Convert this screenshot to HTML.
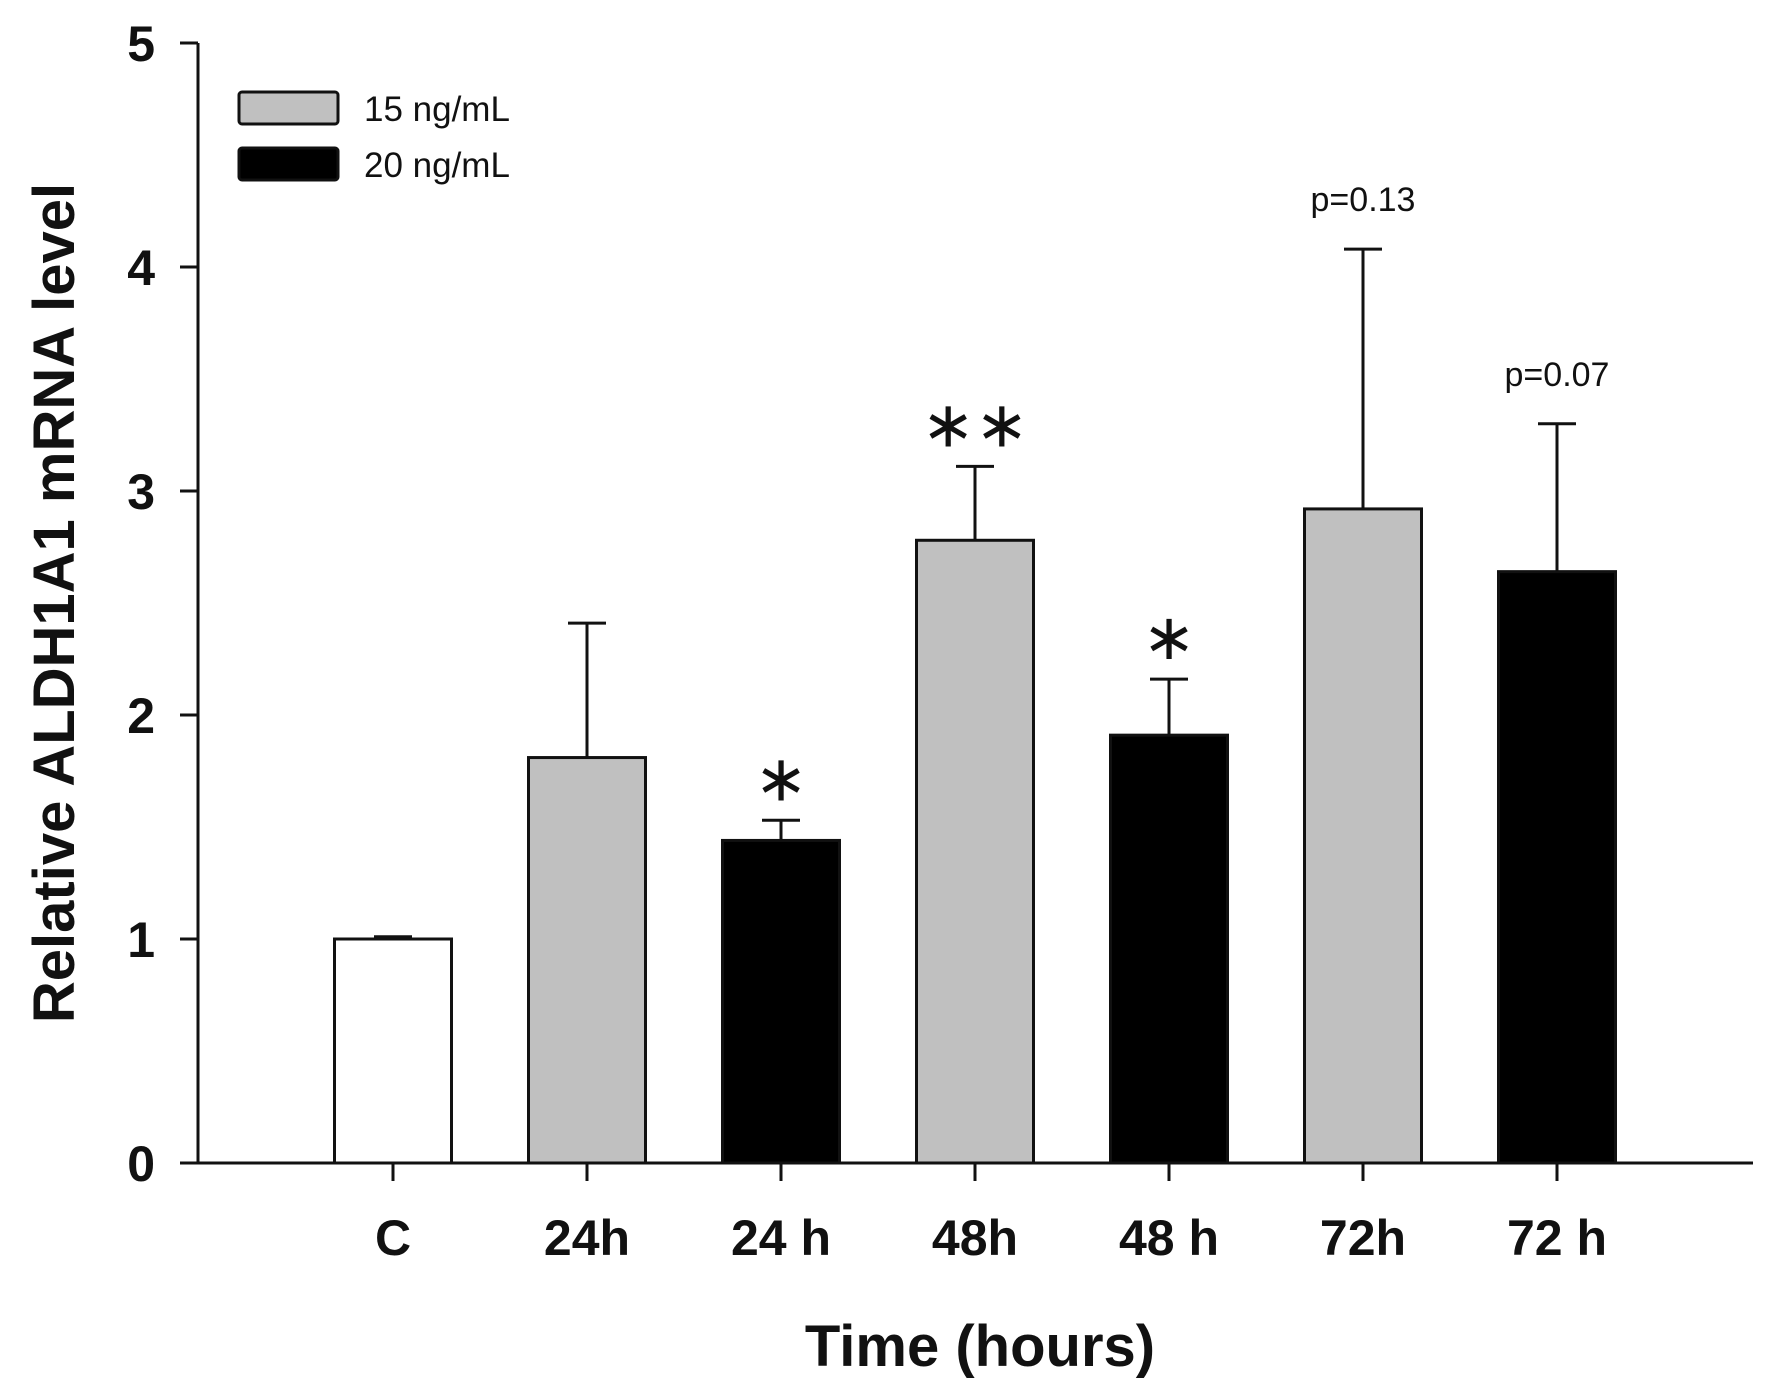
<!DOCTYPE html>
<html><head><meta charset="utf-8"><style>
html,body{margin:0;padding:0;background:#fff;}
svg{display:block;font-family:"Liberation Sans",Arial,sans-serif;}
</style></head><body>
<svg id="chart" width="1776" height="1396" viewBox="0 0 1776 1396" xmlns="http://www.w3.org/2000/svg"></svg>
<script>
const categories = ["C","24h","24 h","48h","48 h","72h","72 h"];
const series = ["control","15","20","15","20","15","20"];
const values = [1.0, 1.81, 1.44, 2.78, 1.91, 2.92, 2.64];
const errors = [0.01, 0.60, 0.09, 0.33, 0.25, 1.16, 0.66];
const annotations = ["", "", "*", "**", "*", "p=0.13", "p=0.07"];
const yTicks = [0,1,2,3,4,5];

const NS="http://www.w3.org/2000/svg";
const svg=document.getElementById('chart');
const X0=198, X1=1753, Y0=1163, Y5=43;
const yScale=v=>Y0-(Y0-Y5)*v/5;
const xScale=i=>393+i*194;
const BW=117;
function mk(tag,attrs,parent){const e=document.createElementNS(NS,tag);for(const k in attrs)e.setAttribute(k,attrs[k]);(parent||svg).appendChild(e);return e;}
const fills={control:"#ffffff","15":"#c0c0c0","20":"#000000"};

categories.forEach((c,i)=>{
  const x=xScale(i), top=yScale(values[i]);
  const g=mk('g',{});
  
  
  const et=yScale(values[i]+errors[i]);
  const el=mk('line',{x1:x,x2:x,y1:top,y2:et,stroke:"#111","stroke-width":3},g);
  
  
  const cap=mk('line',{x1:x-19,x2:x+19,y1:et,y2:et,stroke:"#111","stroke-width":3},g);
  
  
  const r=mk('rect',{x:x-BW/2,y:top,width:BW,height:Y0-top,fill:fills[series[i]],stroke:"#111","stroke-width":3},g);
  
  
  const a=annotations[i];
  if(a){
    const isP=a.startsWith('p');
    const t=mk('text',{x:x,y:isP?et-38:et-20,"text-anchor":"middle","font-size":isP?34:64,fill:"#111"},g);
    t.textContent=isP?a:a.replace(/\*/g,'\u2217');
    
    
  }
  const tk=mk('line',{x1:x,x2:x,y1:Y0,y2:Y0+18,stroke:"#111","stroke-width":3});
  
  
  const lb=mk('text',{x:x,y:1255,"text-anchor":"middle","font-size":50,"font-weight":"bold",fill:"#111"});
  lb.textContent=c;
  
  
});

const ya=mk('line',{x1:X0,x2:X0,y1:Y5,y2:Y0,stroke:"#111","stroke-width":3});


const xa=mk('line',{x1:X0-18,x2:X1,y1:Y0,y2:Y0,stroke:"#111","stroke-width":3});


yTicks.forEach(v=>{
  const y=yScale(v);
  const t=mk('line',{x1:X0-18,x2:X0,y1:y,y2:y,stroke:"#111","stroke-width":3});
  
  
  const l=mk('text',{x:155,y:y+18,"text-anchor":"end","font-size":50,"font-weight":"bold",fill:"#111"});
  l.textContent=v;
  
  
});

const xt=mk('text',{x:980,y:1366,"text-anchor":"middle","font-size":58,"font-weight":"bold",fill:"#111"});
xt.textContent="Time (hours)";


const yt=mk('text',{x:0,y:0,"text-anchor":"middle","font-size":58,"font-weight":"bold",fill:"#111",transform:"translate(74,603) rotate(-90)"});
yt.textContent="Relative ALDH1A1 mRNA level";



const lg=mk('g',{});


[["15 ng/mL","#c0c0c0",90],["20 ng/mL","#000000",146]].forEach(([txt,f,y])=>{
  const e=mk('g',{},lg);
  
  
  mk('rect',{x:239,y:y+2,width:99,height:32,fill:f,stroke:"#111","stroke-width":3,rx:3},e);
  const t=mk('text',{x:364,y:y+31,"font-size":35,fill:"#111"},e);
  t.textContent=txt;
});
</script>
</body></html>
